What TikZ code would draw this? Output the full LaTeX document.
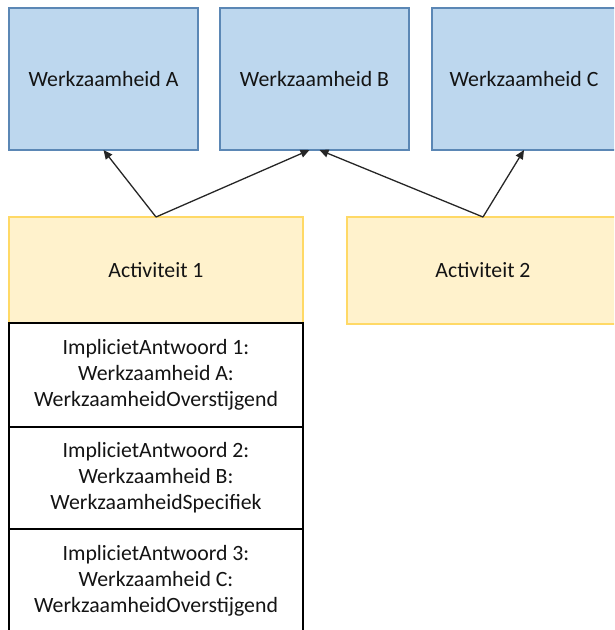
\documentclass[tikz,border=0pt]{standalone}
\usepackage{fontspec}
\setmainfont{Carlito}
\usetikzlibrary{arrows.meta,calc}
\definecolor{wfill}{HTML}{BDD7EE}
\definecolor{wdraw}{HTML}{5B87B5}
\definecolor{afill}{HTML}{FFF2CC}
\definecolor{adraw}{HTML}{FFD966}
\definecolor{txt}{HTML}{141414}
\tikzset{
  base/.style={rectangle, inner sep=0pt, outer sep=0pt, align=center, text=txt,
    font=\fontsize{21.8}{26}\selectfont},
  werk/.style={base, fill=wfill, draw=wdraw, line width=1.2pt},
  act/.style={base, fill=afill, draw=adraw, line width=1.2pt},
  ant/.style={base, fill=white, draw=black, line width=1.5pt},
  conn/.style={draw=black!85, line width=1.3pt, -{Triangle[length=9pt,width=8pt]}}
}
\begin{document}
\begin{tikzpicture}[x=1pt,y=-1pt]
\useasboundingbox (0,0) rectangle (614,630);
\clip (0,0) rectangle (614,630);
\node[werk, minimum width=189pt, minimum height=142pt] (WA) at (103.5,79) {Werkzaamheid A};
\node[werk, minimum width=189pt, minimum height=142pt] (WB) at (314.5,79) {Werkzaamheid B};
\node[werk, minimum width=184pt, minimum height=142pt] (WC) at (524,79) {Werkzaamheid C};
\node[act, minimum width=294pt, minimum height=106pt] (A1) at (156,270) {Activiteit 1};
\node[act, minimum width=272pt, minimum height=107pt] (A2) at (483,270.5) {Activiteit 2};
\node[ant, minimum width=294pt, minimum height=104pt] (I1) at (156,375) {ImplicietAntwoord 1:\\Werkzaamheid A:\\WerkzaamheidOverstijgend};
\node[ant, minimum width=294pt, minimum height=102pt] (I2) at (156,478) {ImplicietAntwoord 2:\\Werkzaamheid B:\\WerkzaamheidSpecifiek};
\node[ant, minimum width=294pt, minimum height=104pt] (I3) at (156,581) {ImplicietAntwoord 3:\\Werkzaamheid C:\\WerkzaamheidOverstijgend};
\coordinate (WBl) at ($(WB.south)+(-5,0)$);
\coordinate (WBr) at ($(WB.south)+(5,0)$);
\draw[conn] (A1.north) -- (WA.south);
\draw[conn] (A1.north) -- (WBl);
\draw[conn] (A2.north) -- (WBr);
\draw[conn] (A2.north) -- (WC.south);
\end{tikzpicture}
\end{document}
